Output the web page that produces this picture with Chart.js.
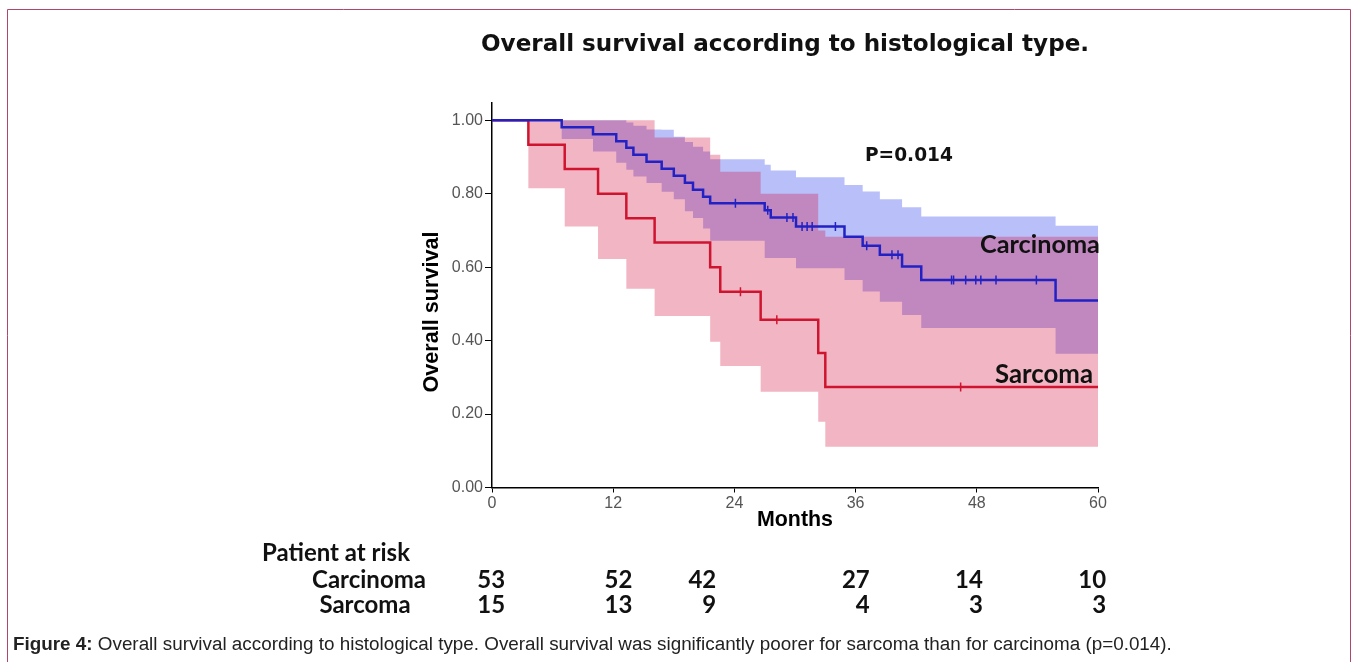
<!DOCTYPE html>
<html>
<head>
<meta charset="utf-8">
<script src="https://cdn.jsdelivr.net/npm/chart.js@4.4.1/dist/chart.umd.min.js"></script>
<style>
  html, body { margin: 0; padding: 0; background: #fff; }
  canvas { display: block; }
</style>
</head>
<body>
<canvas id="kmChart" width="1357" height="662"></canvas>
<script>
// Kaplan-Meier curves (months, survival, 95% CI)
var carcinomaMonths = [0, 6.9, 10.0, 12.3, 13.3, 14.0, 15.3, 16.8, 18.0, 19.1, 19.9, 20.9, 21.6, 27.0, 27.6, 30.1, 34.9, 36.7, 38.4, 40.6, 42.5, 55.8, 60];
var carcinomaSurv   = [1, 0.981, 0.962, 0.943, 0.925, 0.906, 0.887, 0.868, 0.849, 0.830, 0.811, 0.792, 0.774, 0.755, 0.735, 0.711, 0.683, 0.658, 0.634, 0.602, 0.565, 0.509, 0.509];
var carcinomaUpper  = [1, 1, 1, 1, 0.994, 0.985, 0.975, 0.974, 0.955, 0.941, 0.928, 0.915, 0.894, 0.879, 0.863, 0.845, 0.824, 0.806, 0.785, 0.763, 0.738, 0.713, 0.713];
var carcinomaLower  = [1, 0.949, 0.915, 0.884, 0.865, 0.847, 0.829, 0.805, 0.785, 0.752, 0.734, 0.705, 0.672, 0.625, 0.625, 0.597, 0.565, 0.534, 0.506, 0.470, 0.434, 0.364, 0.364];
var carcinomaCensored = [24.1, 27.3, 29.2, 29.8, 30.7, 31.2, 31.7, 34.0, 37.1, 39.6, 40.2, 45.5, 45.7, 46.9, 47.9, 48.4, 49.9, 53.9];

var sarcomaMonths = [0, 3.6, 7.2, 10.5, 13.3, 16.1, 21.6, 22.6, 26.6, 32.3, 33.0, 60];
var sarcomaSurv   = [1, 0.933, 0.867, 0.800, 0.733, 0.667, 0.600, 0.533, 0.457, 0.366, 0.274, 0.274];
var sarcomaUpper  = [1, 1, 1, 1, 1, 0.953, 0.906, 0.860, 0.800, 0.700, 0.683, 0.683];
var sarcomaLower  = [1, 0.815, 0.711, 0.622, 0.541, 0.467, 0.397, 0.331, 0.261, 0.179, 0.111, 0.111];
var sarcomaCensored = [24.6, 28.2, 46.4];

var yTicks = [0, 0.2, 0.4, 0.6, 0.8, 1.0];

// numbers at risk
var riskGroups = ['Carcinoma', 'Sarcoma'];
var riskCarcinoma = [53, 52, 42, 27, 14, 10];
var riskSarcoma = [15, 13, 9, 4, 3, 3];

function pts(xs, ys) {
    return xs.map(function(x, i) { return { x: x, y: ys[i] }; });
}

// value of a step curve at time t (for the censor marks)
function stepAt(xs, ys, t) {
    var v = ys[0];
    for (var i = 0; i < xs.length; i++) {
        if (xs[i] <= t) v = ys[i];
    }
    return v;
}

function censorPts(times, xs, ys) {
    return times.map(function(t) { return { x: t, y: stepAt(xs, ys, t) }; });
}

function fitFont(ctx, text, weight, family, width) {
    ctx.font = weight + ' 100px ' + family;
    var w = ctx.measureText(text).width;
    return weight + ' ' + (100 * width / w).toFixed(2) + 'px ' + family;
}

var blueLine = '#2222c4';
var redLine = '#cf1430';
var clear = 'rgba(0,0,0,0)';

// columns where the right edge of each at-risk count sits (months)
var riskCols = [1.3, 13.9, 22.2, 37.4, 48.6, 60.8];

var textPlugin = {
    id: 'figureText',
    afterDraw: function(chart) {
        var ctx = chart.ctx;
        var xs = chart.scales.x;
        ctx.save();
        ctx.fillStyle = '#111';
        ctx.textBaseline = 'middle';

        // title
        ctx.textAlign = 'left';
        var title = 'Overall survival according to histological type.';
        ctx.font = fitFont(ctx, title, 'bold', '"DejaVu Sans"', 608);
        ctx.fillText(title, 481, 45);

        ctx.font = fitFont(ctx, 'P=0.014', 'bold', '"DejaVu Sans"', 88);
        ctx.fillText('P=0.014', 865, 156);

        ctx.font = fitFont(ctx, 'Carcinoma', 'bold', 'Lato', 120);
        ctx.fillText('Carcinoma', 980, 245);
        ctx.font = fitFont(ctx, 'Sarcoma', 'bold', 'Lato', 98);
        ctx.fillText('Sarcoma', 995, 375);

        // axis titles
        ctx.fillStyle = '#000';
        ctx.textAlign = 'center';
        ctx.font = fitFont(ctx, 'Months', 'bold', '"Liberation Sans"', 76);
        ctx.fillText('Months', 795, 520);
        ctx.save();
        ctx.translate(432, 312);
        ctx.rotate(-Math.PI / 2);
        ctx.font = fitFont(ctx, 'Overall survival', 'bold', '"Liberation Sans"', 161);
        ctx.fillText('Overall survival', 0, 0);
        ctx.restore();

        // risk table
        ctx.fillStyle = '#111';
        ctx.textAlign = 'left';
        ctx.font = fitFont(ctx, 'Patient at risk', 'bold', 'Lato', 148);
        ctx.fillText('Patient at risk', 262, 553);
        var rowY = [580, 605];
        var rows = [riskCarcinoma, riskSarcoma];
        ctx.textAlign = 'center';
        ctx.fillText(riskGroups[0], 369, rowY[0]);
        ctx.fillText(riskGroups[1], 365, rowY[1]);
        ctx.textAlign = 'right';
        rows.forEach(function(row, r) {
            row.forEach(function(n, i) {
                ctx.fillText(String(n), xs.getPixelForValue(riskCols[i]), rowY[r]);
            });
        });

        // caption
        ctx.textAlign = 'left';
        ctx.fillStyle = '#222';
        var lead = 'Figure 4:';
        var rest = ' Overall survival according to histological type. Overall survival was significantly poorer for sarcoma than for carcinoma (p=0.014).';
        ctx.font = 'bold 100px "Liberation Sans"';
        var w1 = ctx.measureText(lead).width;
        ctx.font = '100px "Liberation Sans"';
        var w2 = ctx.measureText(rest).width;
        var size = 100 * 1159 / (w1 + w2);
        ctx.font = 'bold ' + size.toFixed(2) + 'px "Liberation Sans"';
        ctx.fillText(lead, 13, 645);
        var lw = ctx.measureText(lead).width;
        ctx.font = size.toFixed(2) + 'px "Liberation Sans"';
        ctx.fillText(rest, 13 + lw, 645);

        // frame
        ctx.strokeStyle = '#b0466e';
        ctx.lineWidth = 1;
        ctx.beginPath();
        ctx.moveTo(7.5, 662);
        ctx.lineTo(7.5, 9.5);
        ctx.lineTo(1350.5, 9.5);
        ctx.lineTo(1350.5, 662);
        ctx.stroke();
        ctx.restore();
    }
};

var ctx = document.getElementById('kmChart');
var chart = new Chart(ctx, {
    type: 'line',
    data: {
        datasets: [
            {
                data: pts(carcinomaMonths, carcinomaUpper),
                stepped: true, borderColor: clear, borderWidth: 1, pointRadius: 0, fill: false, order: 3
            },
            {
                data: pts(carcinomaMonths, carcinomaLower),
                stepped: true, borderColor: clear, borderWidth: 1, pointRadius: 0,
                fill: '-1', backgroundColor: 'rgba(25, 50, 235, 0.31)', order: 3
            },
            {
                data: pts(sarcomaMonths, sarcomaUpper),
                stepped: true, borderColor: clear, borderWidth: 1, pointRadius: 0, fill: false, order: 2
            },
            {
                data: pts(sarcomaMonths, sarcomaLower),
                stepped: true, borderColor: clear, borderWidth: 1, pointRadius: 0,
                fill: '-1', backgroundColor: 'rgba(212, 10, 55, 0.30)', order: 2
            },
            {
                label: 'Carcinoma',
                data: pts(carcinomaMonths, carcinomaSurv),
                stepped: true, borderColor: blueLine, borderWidth: 2.5, pointRadius: 0, fill: false, order: 1
            },
            {
                label: 'Sarcoma',
                data: pts(sarcomaMonths, sarcomaSurv),
                stepped: true, borderColor: redLine, borderWidth: 2.5, pointRadius: 0, fill: false, order: 1
            },
            {
                data: censorPts(carcinomaCensored, carcinomaMonths, carcinomaSurv),
                showLine: false, pointStyle: 'line', rotation: 90, pointRadius: 4.5,
                pointBorderWidth: 1.5, pointBorderColor: blueLine, order: 0
            },
            {
                data: censorPts(sarcomaCensored, sarcomaMonths, sarcomaSurv),
                showLine: false, pointStyle: 'line', rotation: 90, pointRadius: 4.5,
                pointBorderWidth: 1.5, pointBorderColor: redLine, order: 0
            }
        ]
    },
    options: {
        responsive: false,
        animation: false,
        layout: { padding: { left: 380, top: 103, right: 259, bottom: 134.5 } },
        plugins: {
            legend: { display: false },
            tooltip: { enabled: false }
        },
        scales: {
            x: {
                type: 'linear',
                min: 0,
                max: 60,
                ticks: { stepSize: 12, color: '#555', padding: 1, font: { family: '"Liberation Sans"', size: 16 } },
                grid: { drawOnChartArea: false, drawTicks: true, tickLength: 5, color: '#000' },
                border: { display: true, color: '#000', width: 1.5 },
                afterFit: function(scale) { scale.height = 40; }
            },
            y: {
                type: 'linear',
                min: 0,
                max: 1.047,
                afterBuildTicks: function(scale) {
                    scale.ticks = yTicks.map(function(v) { return { value: v }; });
                },
                ticks: {
                    color: '#555',
                    padding: 2,
                    font: { family: '"Liberation Sans"', size: 16 },
                    callback: function(v) { return Number(v).toFixed(2); }
                },
                grid: { drawOnChartArea: false, drawTicks: true, tickLength: 7, color: '#000' },
                border: { display: true, color: '#000', width: 1.5 },
                afterFit: function(scale) { scale.width = 112; }
            }
        }
    },
    plugins: [textPlugin]
});
</script>
</body>
</html>
